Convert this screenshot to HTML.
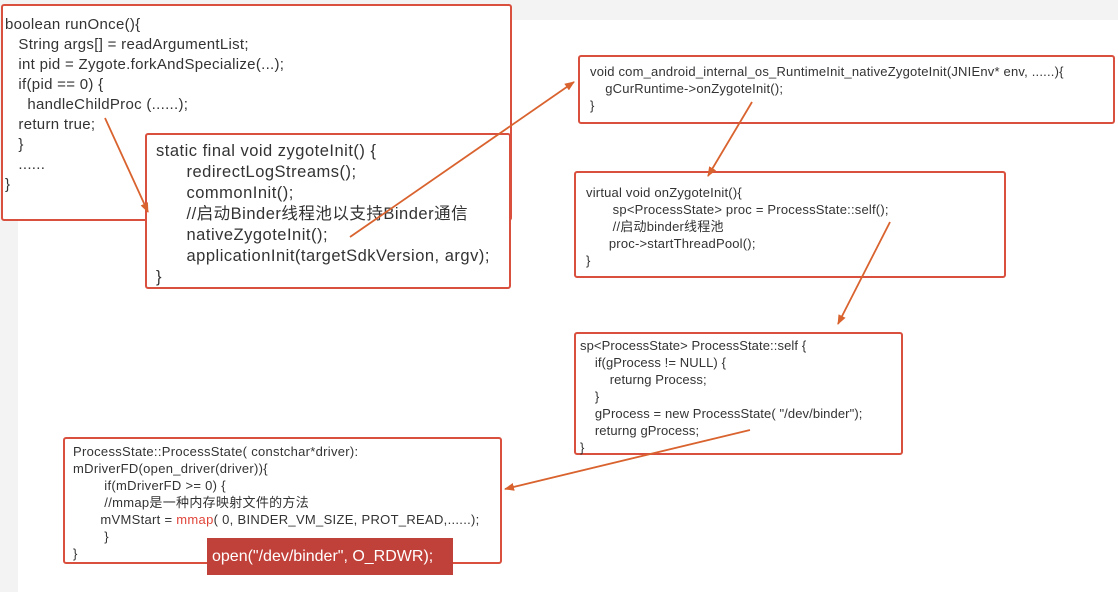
<!DOCTYPE html>
<html><head><meta charset="utf-8"><style>
body{margin:0;width:1118px;height:592px;position:relative;overflow:hidden;background:#f3f3f3;font-family:"Liberation Sans","Noto Sans CJK SC",sans-serif;color:#333}
.bg{position:absolute;left:18px;top:20px;width:1100px;height:572px;background:#fff}
.b{position:absolute;border:2px solid #d9503f;border-radius:3px;background:#fff;box-sizing:border-box;white-space:pre}
svg{position:absolute;left:0;top:0}
</style></head><body>
<div class="bg"></div>
<div class="b" style="left:1px;top:4px;width:511px;height:217px;font-size:15px;line-height:20px;padding:9px 0 0 2px;letter-spacing:0.3px">boolean runOnce(){
   String args[] = readArgumentList;
   int pid = Zygote.forkAndSpecialize(...);
   if(pid == 0) {
     handleChildProc (......);
   return true;
   }
   ......
}</div>
<div class="b" style="left:145px;top:133px;width:366px;height:156px;font-size:16.5px;line-height:21px;padding:6px 0 0 9px;letter-spacing:0.5px">static final void zygoteInit() {
      redirectLogStreams();
      commonInit();
      //启动Binder线程池以支持Binder通信
      nativeZygoteInit();
      applicationInit(targetSdkVersion, argv);
}</div>
<div class="b" style="left:578px;top:55px;width:537px;height:69px;font-size:13px;line-height:17px;padding:6px 0 0 10px;letter-spacing:0.2px">void com_android_internal_os_RuntimeInit_nativeZygoteInit(JNIEnv* env, ......){
    gCurRuntime-&gt;onZygoteInit();
}</div>
<div class="b" style="left:574px;top:171px;width:432px;height:107px;font-size:13px;line-height:17px;padding:11px 0 0 10px;letter-spacing:0.2px">virtual void onZygoteInit(){
       sp&lt;ProcessState&gt; proc = ProcessState::self();
       //启动binder线程池
      proc-&gt;startThreadPool();
}</div>
<div class="b" style="left:574px;top:332px;width:329px;height:123px;font-size:13px;line-height:17px;padding:3px 0 0 4px;letter-spacing:0.1px">sp&lt;ProcessState&gt; ProcessState::self {
    if(gProcess != NULL) {
        returng Process;
    }
    gProcess = new ProcessState( "/dev/binder");
    returng gProcess;
}</div>
<div class="b" style="left:63px;top:437px;width:439px;height:127px;font-size:13px;line-height:17px;padding:4px 0 0 8px;letter-spacing:0.3px">ProcessState::ProcessState( constchar*driver):
mDriverFD(open_driver(driver)){
        if(mDriverFD &gt;= 0) {
        //mmap是一种内存映射文件的方法
       mVMStart = <span style="color:#e0453a">mmap</span>( 0, BINDER_VM_SIZE, PROT_READ,......);
        }
}</div>
<div style="position:absolute;left:207px;top:538px;width:246px;height:37px;background:#c0413a;color:#fff;font-size:16px;line-height:37px;padding-left:5px;box-sizing:border-box">open("/dev/binder", O_RDWR);</div>
<svg width="1118" height="592"><defs><marker id="a" markerWidth="10" markerHeight="8" refX="9" refY="4" orient="auto" markerUnits="userSpaceOnUse"><path d="M0,0L10,4L0,8z" fill="#d9632f"/></marker></defs>
<g stroke="#d9632f" stroke-width="1.8" fill="none" marker-end="url(#a)">
<line x1="105" y1="118" x2="148" y2="212"/>
<line x1="350" y1="237" x2="574" y2="82"/>
<line x1="752" y1="102" x2="708" y2="176"/>
<line x1="890" y1="222" x2="838" y2="324"/>
<line x1="750" y1="430" x2="505" y2="489"/>
</g></svg>
</body></html>
